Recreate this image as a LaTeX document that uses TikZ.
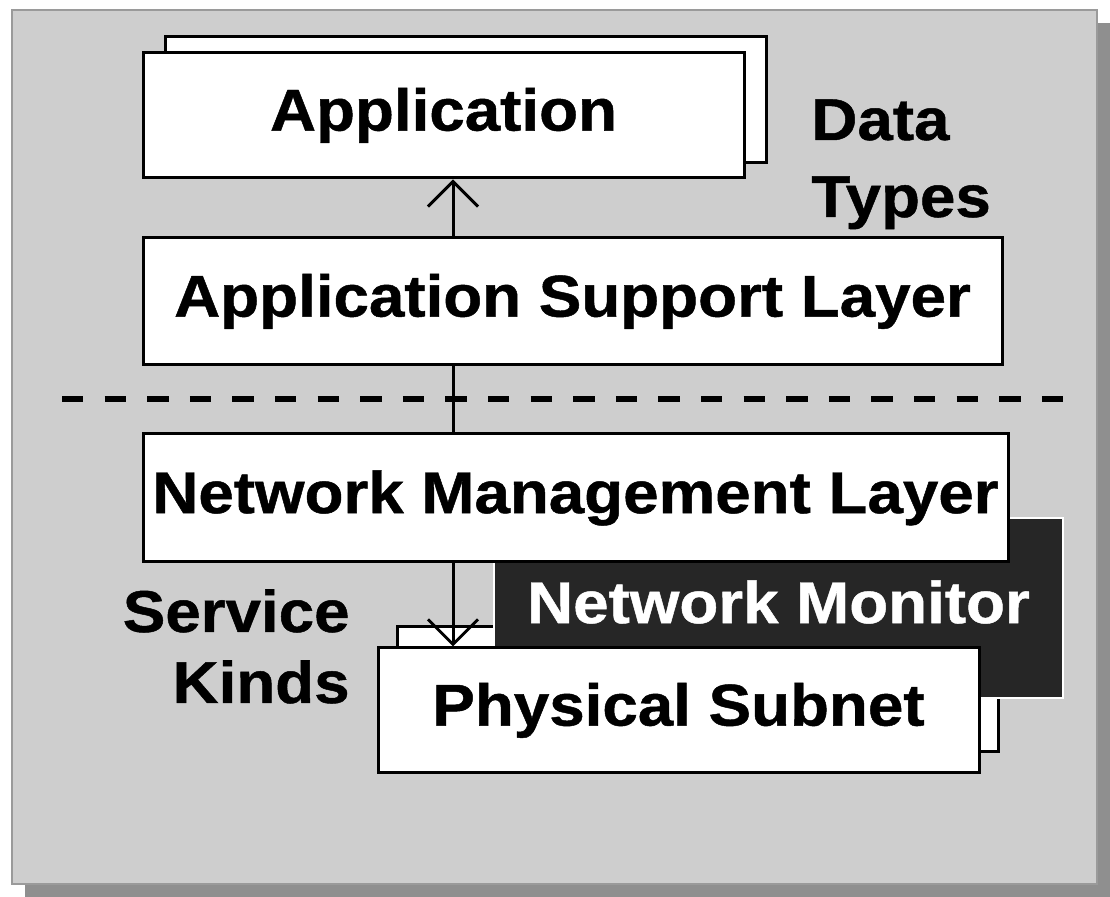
\documentclass[tikz,border=0pt]{standalone}
\usepackage{fontspec}
\setmainfont{Liberation Sans}[FakeStretch=1.08, BoldFeatures={FakeBold=0.8}]
\usetikzlibrary{arrows.meta}
\definecolor{panel}{HTML}{CECECE}
\definecolor{dropgray}{HTML}{8F8F8F}
\definecolor{rim}{HTML}{9A9A9A}
\definecolor{monitor}{HTML}{262626}

\begin{document}
\begin{tikzpicture}[x=0.5pt,y=-0.5pt,
  every node/.style={font=\fontsize{29.5}{36}\selectfont\bfseries},
  layer/.style={draw=black, line width=1.5pt, fill=white, rectangle,
    inner sep=0pt, text height=21.1pt, text depth=6pt},
  darklayer/.style={layer, draw=white, line width=0.6pt, fill=monitor, text=white},
  link/.style={line width=1.5pt},
  barb/.style={-{Straight Barb[length=12.5pt,width=25pt]}},
  caption/.style={inner sep=0pt}
]
% page, its drop shadow and the grey panel
\useasboundingbox (0,0) rectangle (1110,897);
\fill[fill=dropgray] (25,23) rectangle (1110,897);
\filldraw[fill=panel, draw=rim, line width=1pt] (12,10) rectangle (1097,884);

% separator between the upper and lower layers
\draw[line width=3pt, dash pattern=on 10.7pt off 10.6pt] (62,399) -- (1065,399);

% application stack
\node[layer, minimum width=300.5pt, minimum height=63pt] (appBack) at (465.5,100) {};
\node[layer, minimum width=300.5pt, minimum height=62.5pt] (app) at (443.5,115.5) {Application};

% application support layer
\node[layer, minimum width=429.5pt, minimum height=63.5pt] (asl) at (572.5,301.5) {Application Support Layer};

\coordinate (axis) at (453,0);
\draw[link, barb] (asl.north -| axis) -- (app.south -| axis);

% lower half: subnet stack, monitor and management layer
\node[layer, minimum width=300.5pt, minimum height=62.5pt] (physBack) at (697.5,689.5) {};
\node[darklayer, minimum width=284.5pt, minimum height=90pt] (monitor) at (778.5,608) {Network Monitor};
\node[layer, minimum width=432.5pt, minimum height=64pt] (nml) at (575.5,498) {Network Management Layer};
\draw[link] (asl.south -| axis) -- (nml.north -| axis);

\node[layer, minimum width=300.5pt, minimum height=62.5pt] (phys) at (678.5,710.5) {Physical Subnet};
\draw[link, barb] (nml.south -| axis) -- (phys.north -| axis);

% side captions
\node[caption, anchor=base west] (data) at (811,140) {Data};
\node[caption, anchor=base west] (types) at (811,217) {Types};
\node[caption, anchor=base east] (service) at (350,632) {Service};
\node[caption, anchor=base east] (kinds) at (350,703) {Kinds};
\end{tikzpicture}
\end{document}
